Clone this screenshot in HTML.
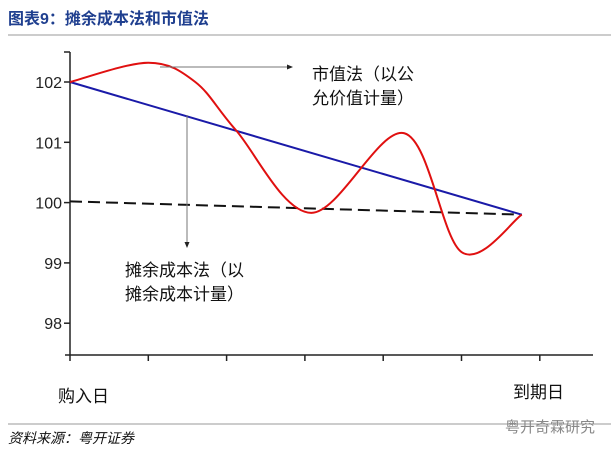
<!DOCTYPE html>
<html><head><meta charset="utf-8"><style>
body{margin:0;width:611px;height:453px;background:#fff;overflow:hidden;font-family:"Liberation Sans","Noto Sans CJK SC",sans-serif;}
</style></head><body>
<svg width="611" height="453" xmlns="http://www.w3.org/2000/svg">
<text x="8" y="24" font-size="16" font-weight="bold" fill="#1f3f8f" font-family="'Liberation Sans','Noto Sans CJK SC',sans-serif">图表9：摊余成本法和市值法</text>
<line x1="8" y1="35" x2="611" y2="35" stroke="#999" stroke-width="1"/>
<g id="axes"></g>
<g id="marks"></g>
<defs><marker id="ah" markerWidth="6" markerHeight="6" refX="5" refY="3" orient="auto"><path d="M0,0.5 L6,3 L0,5.5z" fill="#222"/></marker></defs>
<line x1="160" y1="67" x2="292" y2="67" stroke="#777" stroke-width="1" marker-end="url(#ah)"/>
<line x1="187" y1="115" x2="187" y2="247" stroke="#777" stroke-width="1" marker-end="url(#ah)"/>
<g font-size="17" fill="#111" font-family="'Liberation Sans','Noto Sans CJK SC',sans-serif">
<text x="312" y="80">市值法（以公</text>
<text x="312" y="104">允价值计量）</text>
<text x="125" y="276">摊余成本法（以</text>
<text x="125" y="300">摊余成本计量）</text>
<text x="58" y="402">购入日</text>
<text x="513" y="398">到期日</text>
</g>
<line x1="8" y1="424" x2="611" y2="424" stroke="#999" stroke-width="1"/>
<text x="8" y="443" font-size="14" font-style="italic" fill="#111" font-family="'Liberation Sans','Noto Sans CJK SC',sans-serif">资料来源：粤开证券</text>
<text x="505" y="432" font-size="15" fill="#888" font-family="'Liberation Sans','Noto Sans CJK SC',sans-serif">粤开奇霖研究</text>
</svg>
<script>
const yTicks=[98,99,100,101,102];
const xTickIdx=[0,1,2,3,4,5,6];
const redT=[0,1,1.6,2.12,3.08,4.27,5.0,5.77];
const redV=[102,102.32,102.0,101.2,99.83,101.15,99.18,99.8];
const blueT=[0,5.77];const blueV=[102,99.8];
const dashT=[0,5.77];const dashV=[100.02,99.8];
const X=t=>70+t*78.3, Y=v=>82+(102-v)*60.3;
const ns="http://www.w3.org/2000/svg";
function mk(tag,attrs,parent){const e=document.createElementNS(ns,tag);for(const k in attrs)e.setAttribute(k,attrs[k]);document.getElementById(parent).appendChild(e);return e;}
let e=mk('line',{x1:70,y1:52,x2:70,y2:355,stroke:'#222','stroke-width':1.5},'axes');


e=mk('line',{x1:64,y1:52,x2:70,y2:52,stroke:'#222','stroke-width':1.5},'axes');


e=mk('line',{x1:65,y1:355,x2:593,y2:355,stroke:'#222','stroke-width':1.5},'axes');


yTicks.forEach(v=>{const y=Y(v);
 let t=mk('line',{x1:64,y1:y,x2:70,y2:y,stroke:'#222','stroke-width':1.5},'axes');
 
 
 let l=mk('text',{x:62,y:y+6,'text-anchor':'end','font-size':16,fill:'#222'},'axes');l.textContent=v;
 
 
});
xTickIdx.forEach(i=>{const x=X(i);
 let t=mk('line',{x1:x,y1:355,x2:x,y2:361,stroke:'#222','stroke-width':1.5},'axes');
 
 
});
function smooth(T,V){const p=T.map((t,i)=>[X(t),Y(V[i])]);let d=`M${p[0][0]},${p[0][1]}`;
 for(let i=0;i<p.length-1;i++){const p0=p[i-1]||p[i],p1=p[i],p2=p[i+1],p3=p[i+2]||p2;
 d+=` C${p1[0]+(p2[0]-p0[0])/6},${p1[1]+(p2[1]-p0[1])/6} ${p2[0]-(p3[0]-p1[0])/6},${p2[1]-(p3[1]-p1[1])/6} ${p2[0]},${p2[1]}`;}return d;}
e=mk('line',{x1:X(dashT[0]),y1:Y(dashV[0]),x2:X(dashT[1]),y2:Y(dashV[1]),stroke:'#111','stroke-width':2,'stroke-dasharray':'12,6'},'marks');


e=mk('line',{x1:X(blueT[0]),y1:Y(blueV[0]),x2:X(blueT[1]),y2:Y(blueV[1]),stroke:'#1a1aa8','stroke-width':2},'marks');


e=mk('path',{d:smooth(redT,redV),fill:'none',stroke:'#e01010','stroke-width':2},'marks');


</script>
</body></html>
